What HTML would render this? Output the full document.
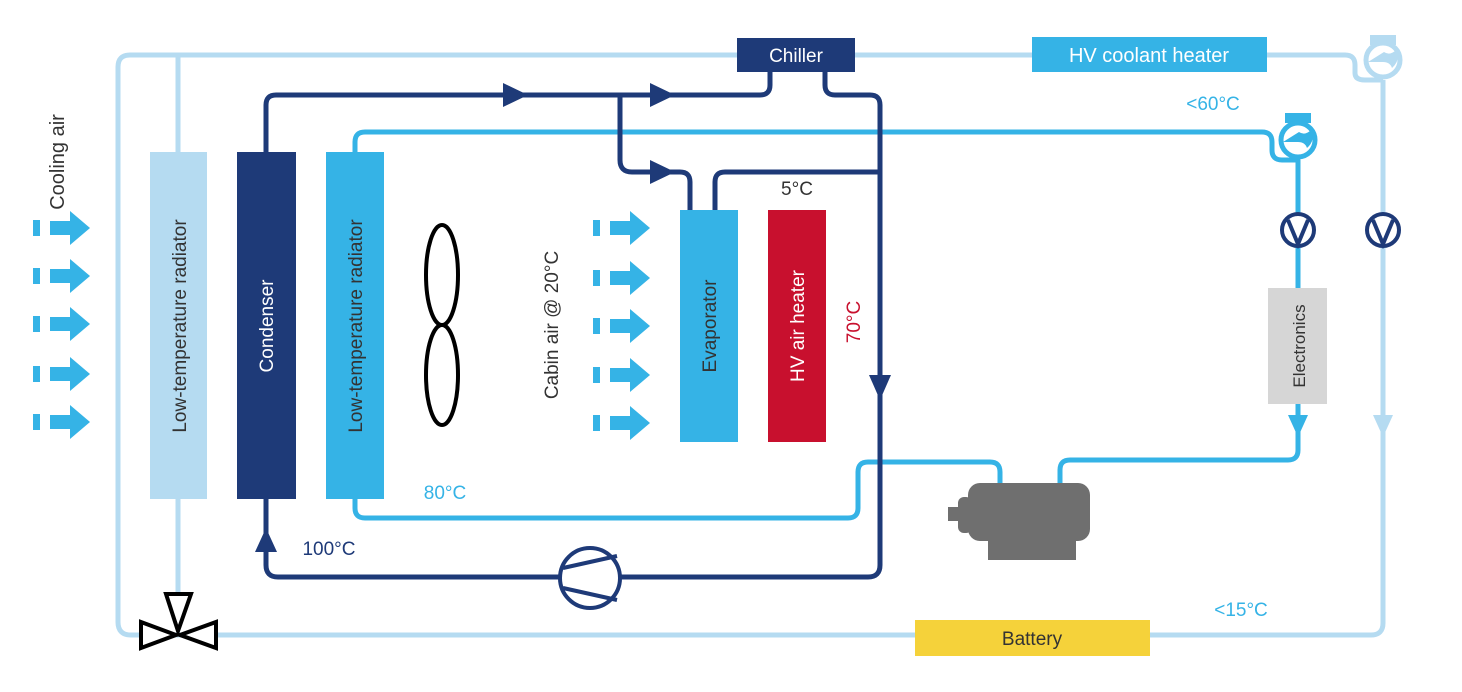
<!DOCTYPE html>
<html><head><meta charset="utf-8"><style>
html,body{margin:0;padding:0;background:#fff;}
svg{display:block;font-family:"Liberation Sans",sans-serif;}
</style></head><body>
<svg width="1462" height="692" viewBox="0 0 1462 692" xmlns="http://www.w3.org/2000/svg">
<defs>
<g id="ar"><rect x="0" y="-8" width="7" height="16"/><rect x="17" y="-7" width="22" height="14"/><polygon points="37,-17 57,0 37,17"/></g>
</defs>
<!-- outer light loop -->
<g fill="none" stroke="#b5dbf1" stroke-width="5" stroke-linejoin="round">
<path d="M737 55 H130 Q118 55 118 67 V622 Q118 635 131 635 H915"/>
<path d="M1150 635 H1371 Q1383 635 1383 623 V80"/>
<path d="M855 55 H1032"/>
<path d="M1267 55 H1345 Q1355 55 1355 65 V73 Q1355 80 1365 80 H1383"/>
<path d="M178 55 V152"/>
<path d="M178 499 V595"/>
</g>
<!-- light pump -->
<rect x="1370" y="35" width="26" height="10" fill="#b5dbf1"/>
<circle cx="1383" cy="60" r="17" fill="#fff" stroke="#b5dbf1" stroke-width="5"/>
<path d="M1368 62 H1383 Q1390 62 1392 68 Q1401 60 1396 50 Q1390 56 1384 52 Z" fill="#b5dbf1"/>
<circle cx="1383" cy="230" r="16" fill="#fff" stroke="#1e3a78" stroke-width="4"/>
<path d="M1373 220 L1383 244 L1393 220" fill="none" stroke="#1e3a78" stroke-width="4"/>
<polygon points="1373,415 1393,415 1383,437" fill="#b5dbf1"/>

<!-- mid-blue loop -->
<g fill="none" stroke="#35b3e6" stroke-width="5" stroke-linejoin="round">
<path d="M355 152 V142 Q355 132 365 132 H1262 Q1272 132 1272 142 V150 Q1272 160 1282 160 H1298 V288"/>
<path d="M1298 404 V450 Q1298 460 1288 460 H1070 Q1060 460 1060 470 V485"/>
<path d="M1000 485 V472 Q1000 462 990 462 H868 Q858 462 858 472 V508 Q858 518 848 518 H365 Q355 518 355 508 V499"/>
</g>
<rect x="1285" y="113" width="26" height="10" fill="#35b3e6"/>
<circle cx="1298" cy="140" r="17" fill="#fff" stroke="#35b3e6" stroke-width="5"/>
<path d="M1283 142 H1298 Q1305 142 1307 148 Q1316 140 1311 130 Q1305 136 1299 132 Z" fill="#35b3e6"/>
<circle cx="1298" cy="230" r="16" fill="#fff" stroke="#1e3a78" stroke-width="4"/>
<path d="M1288 220 L1298 244 L1308 220" fill="none" stroke="#1e3a78" stroke-width="4"/>
<polygon points="1288,415 1308,415 1298,437" fill="#35b3e6"/>

<!-- navy loop -->
<g fill="none" stroke="#1e3a78" stroke-width="5" stroke-linejoin="round">
<path d="M266 152 V105 Q266 95 276 95 H760 Q770 95 770 85 V72"/>
<path d="M825 72 V85 Q825 95 835 95 H870 Q880 95 880 105 V565 Q880 577 868 577 H278 Q266 577 266 565 V499"/>
<path d="M620 95 V160 Q620 172 632 172 H680 Q690 172 690 182 V210"/>
<path d="M715 210 V182 Q715 172 725 172 H880"/>
</g>
<g fill="#1e3a78">
<polygon points="503,83 528,95 503,107"/>
<polygon points="650,83 675,95 650,107"/>
<polygon points="650,160 675,172 650,184"/>
<polygon points="869,375 891,375 880,400"/>
<polygon points="255,552 277,552 266,528"/>
</g>
<circle cx="590" cy="578" r="30" fill="#fff" stroke="#1e3a78" stroke-width="4"/>
<path d="M563 568 L617 556 M563 588 L617 600" stroke="#1e3a78" stroke-width="4"/>

<!-- boxes -->
<rect x="737" y="38" width="118" height="34" fill="#1e3a78"/>
<text x="796" y="62" font-size="19" fill="#fff" text-anchor="middle">Chiller</text>
<rect x="1032" y="37" width="235" height="35" fill="#35b3e6"/>
<text x="1149" y="62" font-size="20" fill="#fff" text-anchor="middle">HV coolant heater</text>
<rect x="915" y="620" width="235" height="36" fill="#f5d23a"/>
<text x="1032" y="645" font-size="19" fill="#333" text-anchor="middle">Battery</text>
<rect x="1268" y="288" width="59" height="116" fill="#d6d6d6"/>
<text transform="translate(1305,346) rotate(-90)" font-size="17" fill="#333" text-anchor="middle">Electronics</text>

<rect x="150" y="152" width="57" height="347" fill="#b5dbf1"/>
<text transform="translate(186,326) rotate(-90)" font-size="19" fill="#333" text-anchor="middle">Low-temperature radiator</text>
<rect x="237" y="152" width="59" height="347" fill="#1e3a78"/>
<text transform="translate(273,326) rotate(-90)" font-size="19" fill="#fff" text-anchor="middle">Condenser</text>
<rect x="326" y="152" width="58" height="347" fill="#35b3e6"/>
<text transform="translate(362,326) rotate(-90)" font-size="19" fill="#333" text-anchor="middle">Low-temperature radiator</text>
<rect x="680" y="210" width="58" height="232" fill="#35b3e6"/>
<text transform="translate(716,326) rotate(-90)" font-size="19" fill="#333" text-anchor="middle">Evaporator</text>
<rect x="768" y="210" width="58" height="232" fill="#c8102e"/>
<text transform="translate(804,326) rotate(-90)" font-size="19" fill="#fff" text-anchor="middle">HV air heater</text>

<!-- motor -->
<g fill="#6f6f6f">
<rect x="948" y="507" width="12" height="14"/>
<rect x="958" y="497" width="14" height="36" rx="6"/>
<rect x="968" y="483" width="122" height="58" rx="12"/>
<rect x="988" y="530" width="88" height="30"/>
</g>

<!-- valve -->
<g fill="#fff" stroke="#000" stroke-width="4" stroke-linejoin="miter">
<polygon points="166,594 191,594 178,631"/>
<polygon points="141,622 141,648 176,635"/>
<polygon points="216,622 216,648 180,635"/>
</g>

<!-- fan -->
<ellipse cx="442" cy="275" rx="16" ry="50" fill="none" stroke="#000" stroke-width="4"/>
<ellipse cx="442" cy="375" rx="16" ry="50" fill="none" stroke="#000" stroke-width="4"/>

<!-- arrows -->
<g fill="#35b3e6">
<use href="#ar" x="33" y="228"/><use href="#ar" x="33" y="276"/><use href="#ar" x="33" y="324"/><use href="#ar" x="33" y="374"/><use href="#ar" x="33" y="422"/>
<use href="#ar" x="593" y="228"/><use href="#ar" x="593" y="278"/><use href="#ar" x="593" y="326"/><use href="#ar" x="593" y="375"/><use href="#ar" x="593" y="423"/>
</g>

<!-- labels -->
<text transform="translate(64,162) rotate(-90)" font-size="20" fill="#333" text-anchor="middle">Cooling air</text>
<text transform="translate(558,325) rotate(-90)" font-size="19" fill="#333" text-anchor="middle">Cabin air @ 20°C</text>
<text transform="translate(860,322) rotate(-90)" font-size="19" fill="#c8102e" text-anchor="middle">70°C</text>
<text x="797" y="195" font-size="19" fill="#333" text-anchor="middle">5°C</text>
<text x="1213" y="110" font-size="19" fill="#35b3e6" text-anchor="middle">&lt;60°C</text>
<text x="445" y="499" font-size="19" fill="#35b3e6" text-anchor="middle">80°C</text>
<text x="329" y="555" font-size="19" fill="#1e3a78" text-anchor="middle">100°C</text>
<text x="1241" y="616" font-size="19" fill="#35b3e6" text-anchor="middle">&lt;15°C</text>
</svg>
</body></html>
